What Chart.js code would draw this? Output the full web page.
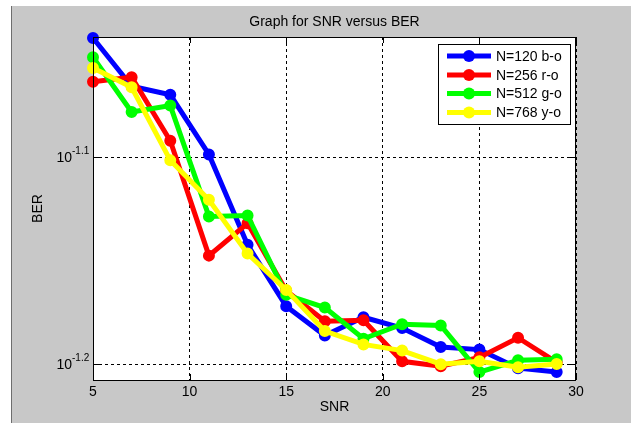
<!DOCTYPE html>
<html>
<head>
<meta charset="utf-8">
<script src="https://cdn.jsdelivr.net/npm/chart.js@4"></script>
<style>
  html, body { margin: 0; padding: 0; background: #fff; }
  canvas { display: block; }
</style>
</head>
<body>
<canvas id="ber-chart" width="631" height="423"></canvas>
<script>
// -------------------------
// DATA
// -------------------------
const snr = [5, 7, 9, 11, 13, 15, 17, 19, 21, 23, 25, 27, 29];
const berN120 = [0.09067, 0.08593, 0.08512, 0.07966, 0.07205, 0.06730, 0.06514, 0.06648, 0.06569, 0.06431, 0.06413, 0.06282, 0.06255];
const berN256 = [0.08637, 0.08681, 0.08088, 0.07119, 0.07379, 0.06846, 0.06619, 0.06626, 0.06330, 0.06296, 0.06358, 0.06498, 0.06323];
const berN512 = [0.08875, 0.08351, 0.08411, 0.07436, 0.07444, 0.06816, 0.06720, 0.06491, 0.06597, 0.06587, 0.06255, 0.06337, 0.06344];
const berN768 = [0.08770, 0.08584, 0.07914, 0.07575, 0.07135, 0.06853, 0.06547, 0.06450, 0.06406, 0.06310, 0.06330, 0.06289, 0.06312];
const seriesLabels = ["N=120 b-o", "N=256 r-o", "N=512 g-o", "N=768 y-o"];
const xTicks = [5, 10, 15, 20, 25, 30];
const yTickExps = [-1.2, -1.1];
const yTickSup = ["-1.2", "-1.1"];

const FONT = "'Liberation Sans', Arial, sans-serif";
const colors = ["#0000ff", "#ff0000", "#00ff00", "#ffff00"];
const allSeries = [berN120, berN256, berN512, berN768];

function mkDataset(i) {
  return {
    label: seriesLabels[i],
    data: snr.map((x, k) => ({ x: x, y: allSeries[i][k] })),
    borderColor: colors[i],
    backgroundColor: colors[i],
    borderWidth: 5,
    pointRadius: 5,
    pointBorderWidth: 2,
    pointBackgroundColor: colors[i],
    pointBorderColor: colors[i],
    tension: 0,
    clip: false,
    order: 4 - i
  };
}

// -------------------------
// Custom drawing: frame, box, inward ticks, labels, legend
// -------------------------
const matlabLook = {
  id: "matlabLook",
  beforeDraw(chart) {
    const { ctx, chartArea: a } = chart;
    ctx.save();
    ctx.fillStyle = "#fff";
    ctx.fillRect(0, 0, chart.width, chart.height);
    ctx.fillStyle = "#c8c8c8";
    ctx.fillRect(11, 6, chart.width - 11, chart.height - 6);
    ctx.fillStyle = "#6e6e6e";
    ctx.fillRect(11, 6, 1, chart.height - 6);
    ctx.fillStyle = "#fff";
    ctx.fillRect(a.left, a.top, a.right - a.left, a.bottom - a.top);
    ctx.restore();
  },
  afterDatasetsDraw(chart) {
    const { ctx, chartArea: a, scales } = chart;
    ctx.save();
    // box
    ctx.strokeStyle = "#000";
    ctx.lineWidth = 1;
    ctx.strokeRect(a.left + 0.5, a.top + 0.5, a.right - a.left - 1, a.bottom - a.top);
    // inward ticks
    ctx.beginPath();
    xTicks.forEach(v => {
      const px = Math.round(scales.x.getPixelForValue(v)) + 0.5;
      ctx.moveTo(px, a.bottom); ctx.lineTo(px, a.bottom - 6);
      ctx.moveTo(px, a.top); ctx.lineTo(px, a.top + 6);
    });
    yTickExps.forEach(e => {
      const py = Math.round(scales.y.getPixelForValue(Math.pow(10, e))) + 0.5;
      ctx.moveTo(a.left, py); ctx.lineTo(a.left + 6, py);
      ctx.moveTo(a.right, py); ctx.lineTo(a.right - 6, py);
    });
    ctx.stroke();
    ctx.restore();
  },
  afterDraw(chart) {
    const { ctx, chartArea: a, scales } = chart;
    ctx.save();
    ctx.fillStyle = "#000";
    // title
    ctx.font = "14px " + FONT;
    ctx.textAlign = "center";
    ctx.textBaseline = "middle";
    ctx.fillText("Graph for SNR versus BER", (a.left + a.right) / 2, 22);
    // x title
    ctx.fillText("SNR", (a.left + a.right) / 2, 407);
    // y title
    ctx.save();
    ctx.translate(38, (a.top + a.bottom) / 2);
    ctx.rotate(-Math.PI / 2);
    ctx.fillText("BER", 0, 0);
    ctx.restore();
    // y tick labels 10^e
    yTickExps.forEach((e, i) => {
      const py = scales.y.getPixelForValue(Math.pow(10, e));
      ctx.font = "14px " + FONT;
      ctx.textAlign = "right";
      ctx.textBaseline = "middle";
      ctx.fillText("10", 72, py + 1);
      ctx.font = "10px " + FONT;
      ctx.textAlign = "left";
      ctx.fillText(yTickSup[i], 72, py - 6);
    });
    // legend
    const lx = 438, ly = 44, lw = 132, lh = 80;
    ctx.fillStyle = "#fff";
    ctx.fillRect(lx, ly, lw, lh);
    ctx.strokeStyle = "#000";
    ctx.lineWidth = 1;
    ctx.strokeRect(lx + 0.5, ly + 0.5, lw, lh);
    const rows = [56, 75, 93.5, 112.5];
    chart.data.datasets.forEach((ds, i) => {
      const y = rows[i];
      ctx.strokeStyle = ds.borderColor;
      ctx.lineWidth = 5;
      ctx.beginPath();
      ctx.moveTo(447, y); ctx.lineTo(491, y);
      ctx.stroke();
      ctx.fillStyle = ds.borderColor;
      ctx.beginPath();
      ctx.arc(469, y, 6, 0, Math.PI * 2);
      ctx.fill();
      ctx.fillStyle = "#000";
      ctx.font = "14px " + FONT;
      ctx.textAlign = "left";
      ctx.textBaseline = "middle";
      ctx.fillText(ds.label, 496, y + 1);
    });
    ctx.restore();
  }
};

// -------------------------
// Chart
// -------------------------
const ctx = document.getElementById("ber-chart").getContext("2d");
new Chart(ctx, {
  type: "line",
  data: { datasets: [0, 1, 2, 3].map(mkDataset) },
  options: {
    responsive: false,
    animation: false,
    devicePixelRatio: 1,
    layout: { padding: { left: 0, top: 37, right: 55, bottom: 0 } },
    plugins: { legend: { display: false }, tooltip: { enabled: false }, title: { display: false } },
    scales: {
      x: {
        type: "linear",
        min: 5,
        max: 30,
        afterBuildTicks: s => { s.ticks = xTicks.map(v => ({ value: v })); },
        afterFit: s => { s.height = 43; },
        border: { display: false, dash: [3, 3] },
        grid: { color: "#000", lineWidth: 1, drawTicks: false },
        ticks: { color: "#000", font: { family: FONT, size: 14 }, padding: 4, maxRotation: 0 }
      },
      y: {
        type: "logarithmic",
        min: 0.06248,
        max: 0.09077,
        afterBuildTicks: s => { s.ticks = yTickExps.map(e => ({ value: Math.pow(10, e) })); },
        afterFit: s => { s.width = 93; },
        border: { display: false, dash: [3, 3] },
        grid: { color: "#000", lineWidth: 1, drawTicks: false },
        ticks: { display: false }
      }
    }
  },
  plugins: [matlabLook]
});
</script>
</body>
</html>
